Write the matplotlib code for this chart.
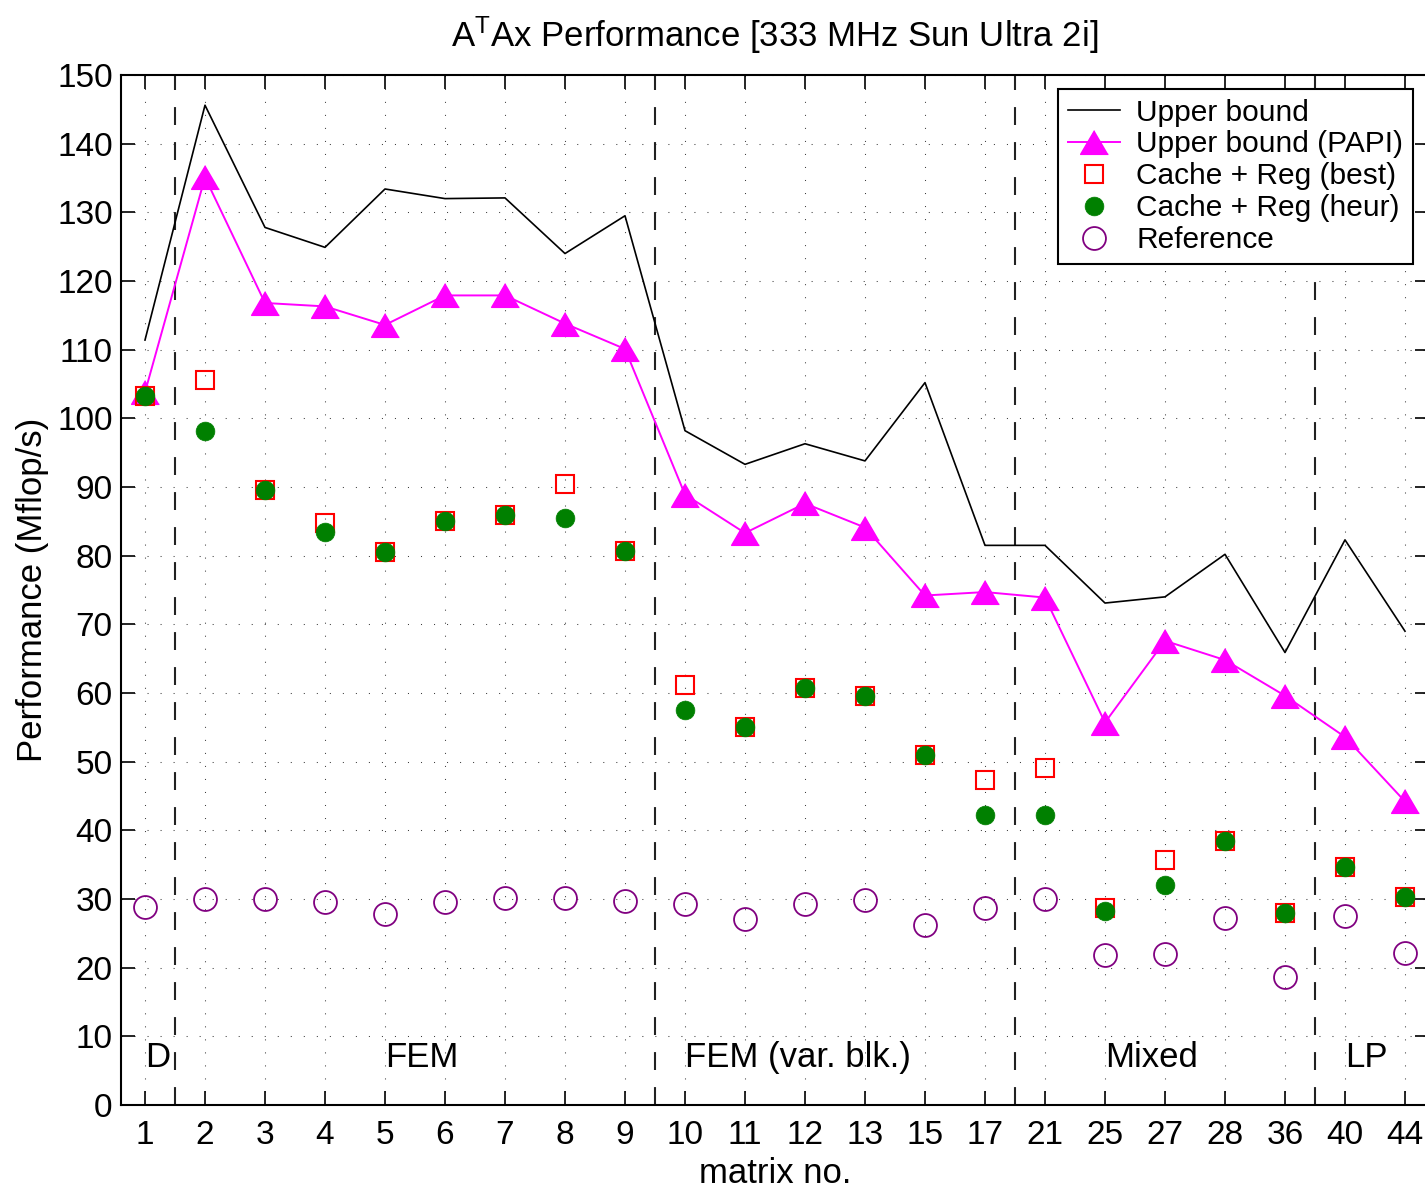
import matplotlib
matplotlib.use("Agg")
import matplotlib.pyplot as plt
import numpy as np

plt.rcParams['font.family'] = ['Liberation Sans', 'DejaVu Sans']
plt.rcParams['mathtext.fontset'] = 'custom'
plt.rcParams['mathtext.rm'] = 'Liberation Sans'
plt.rcParams['mathtext.it'] = 'Liberation Sans:italic'

# ---- data ----
matrix_labels = ['1', '2', '3', '4', '5', '6', '7', '8', '9', '10', '11', '12', '13',
                 '15', '17', '21', '25', '27', '28', '36', '40', '44']
upper_bound = [111.4, 145.6, 127.8, 124.9, 133.4, 132.0, 132.1, 124.0, 129.5, 98.2, 93.3,
               96.3, 93.8, 105.2, 81.5, 81.5, 73.1, 74.0, 80.2, 65.9, 82.3, 69.0]
upper_papi = [103.8, 135.1, 116.8, 116.3, 113.6, 117.9, 117.9, 113.8, 110.1, 88.9, 83.3,
              87.6, 84.1, 74.2, 74.7, 73.9, 55.7, 67.6, 64.8, 59.6, 53.6, 44.2]
cache_best = [103.2, 105.6, 89.5, 84.8, 80.6, 85.0, 85.9, 90.5, 80.7, 61.1, 55.0,
              60.7, 59.6, 51.0, 47.3, 49.1, 28.7, 35.7, 38.4, 27.9, 34.7, 30.3]
cache_heur = [103.2, 98.1, 89.5, 83.5, 80.6, 85.0, 85.9, 85.5, 80.7, 57.5, 55.0,
              60.7, 59.6, 51.0, 42.3, 42.2, 28.2, 32.0, 38.4, 27.9, 34.7, 30.3]
reference = [28.9, 30.0, 30.0, 29.5, 27.8, 29.5, 30.2, 30.2, 29.7, 29.3, 27.1,
             29.3, 29.9, 26.2, 28.7, 30.0, 21.8, 22.0, 27.2, 18.7, 27.5, 22.2]
group_names = ['D', 'FEM', 'FEM (var. blk.)', 'Mixed', 'LP']
group_start = [1, 5, 10, 17, 21]
group_sep = [1.5, 9.5, 15.5, 20.5]
y_ticks = list(range(0, 151, 10))

x = np.arange(1, len(matrix_labels) + 1)

W, H = 1425, 1190
fig = plt.figure(figsize=(W / 100, H / 100), dpi=100)
ax = fig.add_axes([121 / W, (H - 1105) / H, (1429 - 121) / W, (1105 - 75) / H])

# grid
for xv in x:
    ax.axvline(xv, color='#404040', lw=0.75, ls=(0, (1, 11.5)), zorder=0)
for yv in y_ticks:
    ax.axhline(yv, color='#404040', lw=0.75, ls=(0, (1, 11.5)), zorder=0)
for s in group_sep:
    ax.axvline(s, color='#222222', lw=1.5, ls=(0, (8.6, 8.2)), zorder=1)

tri = [(0, 0.855), (-1, -0.855), (1, -0.855)]

ax.plot(x, upper_bound, color='black', lw=1.2, label='Upper bound', zorder=2)
ax.plot(x, upper_papi, color='#FF00FF', lw=1.4, marker=tri, ms=20,
        mfc='#FF00FF', mec='#FF00FF', label='Upper bound (PAPI)', zorder=3)
ax.plot(x, cache_best, ls='none', marker='s', ms=13, mfc='none', mec='#FF0000',
        mew=1.5, label='Cache + Reg (best)', zorder=4)
ax.plot(x, cache_heur, ls='none', marker='o', ms=13.5, mfc='#008000', mec='#008000',
        mew=0.5, label='Cache + Reg (heur)', zorder=5)
ax.plot(x, reference, ls='none', marker='o', ms=16.5, mfc='none', mec='#800080',
        mew=1.3, label='Reference', zorder=5)

for name, start in zip(group_names, group_start):
    ax.text(start, 5.53, name, ha='left', va='baseline', fontsize=25)

ax.set_xlim(0.6, 22.4)
ax.set_ylim(0, 150)
ax.set_xticks(x)
ax.set_xticklabels(matrix_labels)
ax.set_yticks(y_ticks)
ax.tick_params(axis='both', direction='in', length=10, width=1.2, labelsize=24,
               top=True, right=True)
ax.tick_params(axis='x', pad=11)
ax.tick_params(axis='y', pad=6)
for sp in ax.spines.values():
    sp.set_linewidth(1.5)

ax.set_xlabel('matrix no.', fontsize=25, labelpad=4)
ax.set_ylabel('Performance (Mflop/s)', fontsize=25, labelpad=6)
ax.set_title(r'A$^{\mathrm{T}}$Ax Performance [333 MHz Sun Ultra 2i]', fontsize=25, pad=20)

leg = ax.legend(loc='upper right', bbox_to_anchor=(1413 / W, 1 - 89 / H),
                bbox_transform=fig.transFigure, borderaxespad=0, fontsize=21.5,
                fancybox=False, framealpha=1, edgecolor='black', handlelength=1.75,
                handletextpad=0.55, labelspacing=0.13, borderpad=0.32)
leg.get_frame().set_linewidth(1.5)

fig.savefig('out.png', dpi=100)
